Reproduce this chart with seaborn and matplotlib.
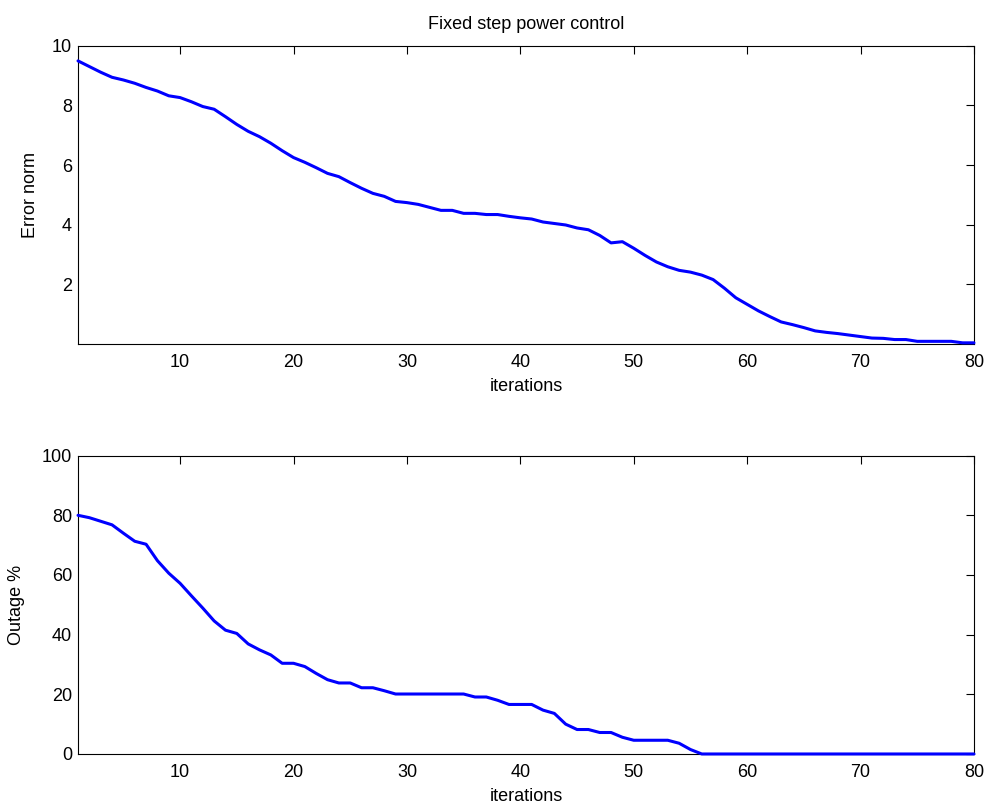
import numpy as np
import pandas as pd
import matplotlib
matplotlib.use("Agg")
import matplotlib.pyplot as plt
import seaborn as sns

# Error norm per iteration (fixed-step power control)
error_norm = [9.49, 9.30, 9.11, 8.94, 8.85, 8.74, 8.60, 8.48, 8.32, 8.26,
              8.12, 7.96, 7.87, 7.62, 7.36, 7.13, 6.95, 6.73, 6.48, 6.25,
              6.09, 5.91, 5.72, 5.61, 5.41, 5.22, 5.05, 4.95, 4.78, 4.74,
              4.68, 4.58, 4.48, 4.48, 4.38, 4.38, 4.34, 4.34, 4.28, 4.23,
              4.19, 4.09, 4.04, 3.99, 3.89, 3.83, 3.64, 3.39, 3.43, 3.21,
              2.97, 2.75, 2.59, 2.47, 2.41, 2.31, 2.16, 1.87, 1.55, 1.33,
              1.11, 0.92, 0.74, 0.65, 0.55, 0.44, 0.39, 0.35, 0.30, 0.25,
              0.20, 0.19, 0.15, 0.15, 0.09, 0.09, 0.09, 0.09, 0.04, 0.04]

# Outage percentage per iteration
outage_pct = [80.0, 79.2, 78.0, 76.8, 74.0, 71.3, 70.3, 64.8, 60.6, 57.2,
              53.0, 48.9, 44.6, 41.5, 40.4, 36.9, 34.9, 33.2, 30.4, 30.4,
              29.3, 27.0, 24.9, 23.8, 23.8, 22.2, 22.2, 21.2, 20.1, 20.1,
              20.1, 20.1, 20.1, 20.1, 20.1, 19.1, 19.1, 18.0, 16.6, 16.6,
              16.6, 14.7, 13.6, 10.0, 8.2, 8.2, 7.2, 7.2, 5.6, 4.6,
              4.6, 4.6, 4.6, 3.6, 1.5, 0.0, 0.0, 0.0, 0.0, 0.0,
              0.0, 0.0, 0.0, 0.0, 0.0, 0.0, 0.0, 0.0, 0.0, 0.0,
              0.0, 0.0, 0.0, 0.0, 0.0, 0.0, 0.0, 0.0, 0.0, 0.0]

iterations = list(range(1, 81))
x_ticks = [10, 20, 30, 40, 50, 60, 70, 80]
err_ticks = [2, 4, 6, 8, 10]
out_ticks = [0, 20, 40, 60, 80, 100]

df = pd.DataFrame({"iterations": iterations,
                   "error": error_norm,
                   "outage": outage_pct})

sns.set_theme(style="white")
plt.rcParams["font.family"] = ["Liberation Sans", "DejaVu Sans"]
plt.rcParams.update({
    "font.size": 13,
    "text.color": "black",
    "axes.labelcolor": "black",
    "axes.titlecolor": "black",
    "axes.edgecolor": "black",
    "axes.linewidth": 0.8,
    "xtick.direction": "in",
    "ytick.direction": "in",
    "xtick.top": True,
    "ytick.right": True,
    "xtick.major.size": 5.8,
    "ytick.major.size": 5.8,
    "xtick.major.width": 0.8,
    "ytick.major.width": 0.8,
    "xtick.color": "black",
    "ytick.color": "black",
    "xtick.labelsize": 13,
    "ytick.labelsize": 13,
    "xtick.major.pad": 7.0,
    "ytick.major.pad": 4.3,
})

fig = plt.figure(figsize=(9.89, 8.07), dpi=100)
ax1 = fig.add_axes([0.0789, 0.5737, 0.9059, 0.3697])
ax2 = fig.add_axes([0.0789, 0.0657, 0.9059, 0.3697])

sns.lineplot(data=df, x="iterations", y="error", ax=ax1,
             color="#0000ff", linewidth=2.2)
sns.lineplot(data=df, x="iterations", y="outage", ax=ax2,
             color="#0000ff", linewidth=2.2)

for ax in (ax1, ax2):
    for ln in ax.lines:
        ln.set_clip_on(False)
        ln.set_zorder(5)
    ax.set_xlim(1, 80)
    ax.set_xticks(x_ticks)
    ax.set_xlabel("iterations", fontsize=13, labelpad=5, color="black")
    ax.tick_params(which="both", top=True, right=True,
                   labelcolor="black", color="black")
    for sp in ax.spines.values():
        sp.set_visible(True)
        sp.set_color("black")
        sp.set_linewidth(0.8)

ax1.set_ylim(0, 10)
ax1.set_yticks(err_ticks)
ax1.set_ylabel("Error norm", fontsize=13, color="black")
ax1.yaxis.set_label_coords(-0.0435, 0.5)
ax1.set_title("Fixed step power control", fontsize=13, pad=12, color="black")

ax2.set_ylim(0, 100)
ax2.set_yticks(out_ticks)
ax2.set_ylabel("Outage %", fontsize=13, color="black")
ax2.yaxis.set_label_coords(-0.059, 0.5)

fig.savefig("out.png", dpi=100, facecolor="white")
